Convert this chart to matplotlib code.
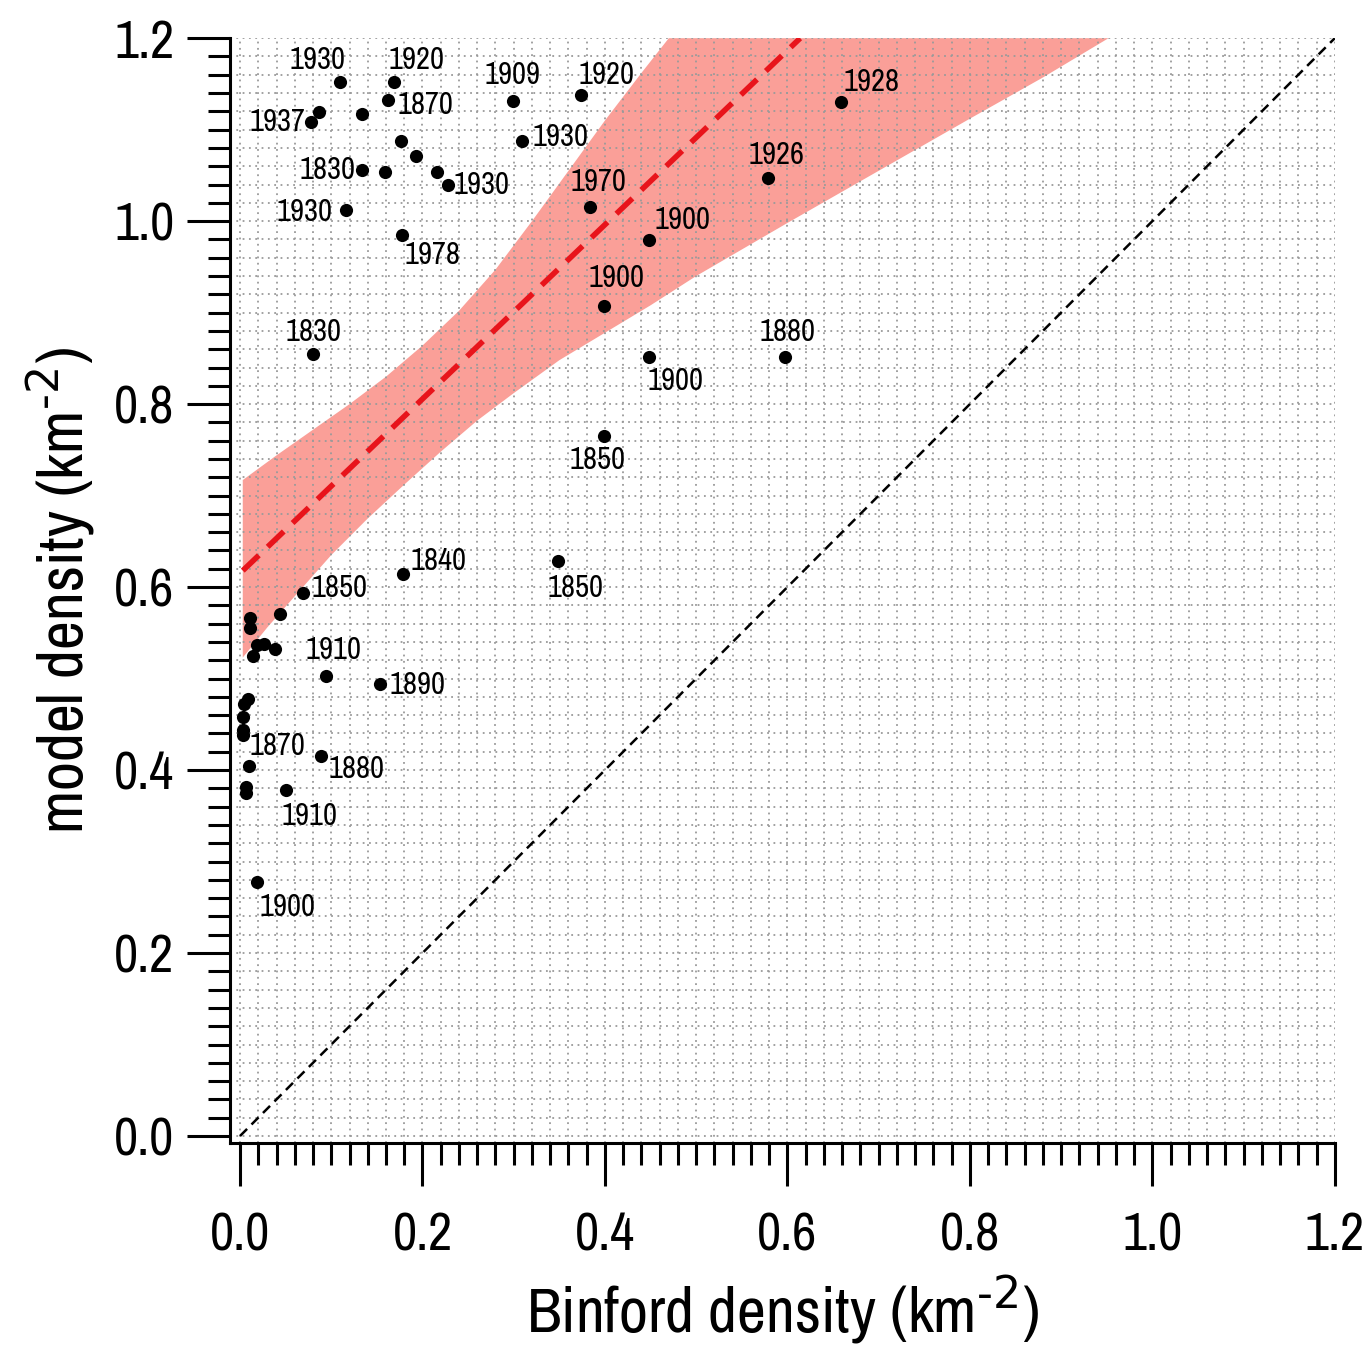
import numpy as np
import matplotlib.pyplot as plt
from matplotlib import font_manager
from matplotlib.ticker import MultipleLocator

# look for a narrow face, the original uses a condensed sans
fam, stretch, k = 'Liberation Sans', 'normal', 0.82
for f in font_manager.fontManager.ttflist:
    if 'Narrow' in f.name or 'Condensed' in f.name:
        fam, stretch, k = f.name, 'normal', 1.0
        break
else:
    for f in font_manager.fontManager.ttflist:
        if str(f.stretch) in ('condensed', 'semi-condensed', '87.5', '75') and 'Mono' not in f.name:
            fam, stretch, k = f.name, 'condensed', 1.0
            break
plt.rcParams['font.family'] = [fam, 'DejaVu Sans']
plt.rcParams['font.stretch'] = stretch

# Binford density vs model density, one dot per group
binford = [0.110, 0.169, 0.087, 0.078, 0.134, 0.162, 0.176, 0.193, 0.216, 0.228,
           0.134, 0.159, 0.116, 0.178, 0.299, 0.309, 0.374, 0.659, 0.579, 0.384,
           0.448, 0.399, 0.080, 0.597, 0.448, 0.399, 0.348, 0.179, 0.069, 0.044,
           0.011, 0.011, 0.019, 0.026, 0.014, 0.038, 0.094, 0.153, 0.009, 0.004,
           0.003, 0.003, 0.003, 0.010, 0.007, 0.007, 0.089, 0.050, 0.019]
model = [1.152, 1.152, 1.119, 1.108, 1.117, 1.132, 1.088, 1.071, 1.054, 1.040,
         1.056, 1.054, 1.012, 0.985, 1.131, 1.088, 1.138, 1.130, 1.047, 1.016,
         0.979, 0.907, 0.855, 0.852, 0.852, 0.765, 0.629, 0.614, 0.594, 0.571,
         0.566, 0.555, 0.537, 0.538, 0.525, 0.532, 0.503, 0.494, 0.478, 0.472,
         0.458, 0.444, 0.438, 0.404, 0.381, 0.375, 0.415, 0.378, 0.278]
years = ['1930', '1920', '', '1937', '', '1870', '', '', '', '1930',
         '1830', '', '1930', '1978', '1909', '1930', '1920', '1928', '1926', '1970',
         '1900', '1900', '1830', '1880', '1900', '1850', '1850', '1840', '1850', '',
         '', '', '', '', '', '', '1910', '1890', '', '',
         '', '', '1870', '', '', '', '1880', '1910', '1900']

# label offsets from their dot (pixels, right / up)
lab_dx = [-23, 22, 0, -34, 0, 38, 0, 0, 0, 33,
          -35, 0, -41, 30, 0, 39, 25, 30, 8, 8,
          34, 12, 0, 3, 27, -7, 18, 35, 37, 0,
          0, 0, 0, 0, 0, 0, 8, 38, 0, 0,
          0, 0, 35, 0, 0, 0, 35, 24, 30]
lab_dy = [22, 22, 0, 0, 0, -5, 0, 0, 0, 0,
          0, 0, -2, -20, 26, 4, 20, 20, 23, 25,
          20, 28, 22, 25, -24, -24, -27, 13, 5, 0,
          0, 0, 0, 0, 0, 0, 26, -1, 0, 0,
          0, 0, -11, 0, 0, 0, -13, -26, -25]

# fitted line and its band
fit_x = [0.003, 0.614]
fit_y = [0.618, 1.200]
band_up_x = [0.003, 0.04, 0.08, 0.12, 0.16, 0.20, 0.24, 0.28, 0.32, 0.36, 0.40, 0.44, 0.47]
band_up_y = [0.717, 0.744, 0.772, 0.800, 0.830, 0.864, 0.902, 0.947, 1.000, 1.055, 1.110, 1.162, 1.200]
band_lo_x = [0.003, 0.03, 0.06, 0.10, 0.14, 0.18, 0.22, 0.26, 0.30, 0.35, 0.40, 0.45, 0.50,
             0.60, 0.70, 0.80, 0.88, 0.952]
band_lo_y = [0.523, 0.556, 0.590, 0.635, 0.675, 0.712, 0.748, 0.782, 0.812, 0.848, 0.878, 0.908,
             0.940, 0.998, 1.055, 1.112, 1.157, 1.200]

fig = plt.figure(figsize=(13.69, 13.64), dpi=100)
ax = fig.add_axes([0.168, 0.162, 0.807, 0.810])

poly_x = band_up_x + band_lo_x[::-1]
poly_y = band_up_y + band_lo_y[::-1]
ax.fill(poly_x, poly_y, color='#fa9f98', lw=0, zorder=1)

ax.plot([0, 1.2], [0, 1.2], color='black', lw=1.8, ls=(0, (4, 2.5)), zorder=2)
ax.plot(fit_x, fit_y, color='#e8141b', lw=4.0, ls=(0, (4.0, 2.2)), zorder=3)
ax.scatter(binford, model, s=90, color='black', lw=0, zorder=4)

for x, y, t, dx, dy in zip(binford, model, years, lab_dx, lab_dy):
    if t:
        ax.annotate(t, (x, y), xytext=(dx, dy), textcoords='offset pixels',
                    ha='center', va='center', fontsize=22 * k, zorder=5)

ax.set_xlim(-0.011, 1.2)
ax.set_ylim(-0.0077, 1.2)
ax.xaxis.set_major_locator(MultipleLocator(0.2))
ax.xaxis.set_minor_locator(MultipleLocator(0.02))
ax.yaxis.set_major_locator(MultipleLocator(0.2))
ax.yaxis.set_minor_locator(MultipleLocator(0.02))
ax.xaxis.set_major_formatter(lambda v, p: f'{v:.1f}')
ax.yaxis.set_major_formatter(lambda v, p: f'{v:.1f}')
ax.grid(which='both', color='#9a9a9a', lw=1.3, ls=(0, (1, 2.5)))

for s in ['top', 'right']:
    ax.spines[s].set_visible(False)
for s in ['left', 'bottom']:
    ax.spines[s].set_linewidth(2.2)

ax.tick_params(axis='both', which='major', length=31, width=2.2, labelsize=38 * k)
ax.tick_params(axis='both', which='minor', length=16, width=2.2)
ax.tick_params(axis='x', which='major', pad=18)
ax.tick_params(axis='y', which='major', pad=9)

ax.set_xlabel(r'Binford density (km$^{\text{-2}}$)', fontsize=48 * k * 0.95, labelpad=10)
ax.set_ylabel(r'model density (km$^{\text{-2}}$)', fontsize=48 * k * 0.95, labelpad=12)

fig.savefig('out.png', dpi=100)
